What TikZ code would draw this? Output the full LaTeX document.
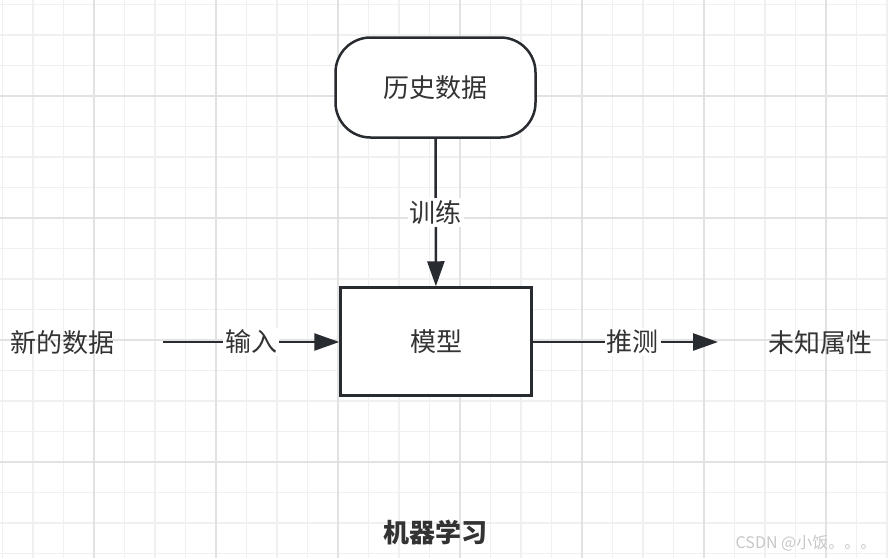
\documentclass[tikz,border=0pt]{standalone}
\usepackage{fontspec}
\setmainfont{Noto Sans CJK SC}
\usetikzlibrary{arrows.meta}
\definecolor{ink}{RGB}{40,43,47}
\definecolor{txt}{RGB}{51,51,51}
\definecolor{gminor}{RGB}{240,240,240}
\definecolor{gmajor}{RGB}{226,226,226}
\definecolor{wmark}{RGB}{200,200,200}
\begin{document}
\begin{tikzpicture}[x=1pt,y=-1pt,
  shapebox/.style={draw=ink, line width=2.5pt, fill=white, text=txt, font=\fontsize{26}{30}\selectfont, inner sep=0pt},
  plain/.style={text=txt, font=\fontsize{26}{30}\selectfont, inner sep=0pt},
  lbl/.style={fill=white, text=txt, font=\fontsize{26}{30}\selectfont, inner sep=2pt},
  conn/.style={draw=ink, line width=2.5pt, -{Triangle[length=25pt,width=17pt]}},
  gminorline/.style={draw=gminor, line width=1.6pt},
  gmajorline/.style={draw=gmajor, line width=1.6pt}]
\useasboundingbox (0,0) rectangle (888,558);
\fill[white] (0,0) rectangle (888,558);
\foreach \i in {0,...,29} {
  \draw[gminorline] ({2.5+30.5*\i},0) -- ++(0,558);
}
\foreach \i in {0,...,18} {
  \draw[gminorline] (0,{4.5+30.5*\i}) -- ++(888,0);
}
\foreach \i in {0,...,6} {
  \draw[gmajorline] ({94+122*\i},0) -- ++(0,558);
}
\foreach \i in {0,...,3} {
  \draw[gmajorline] (0,{96+122*\i}) -- ++(888,0);
}
\node[shapebox, rounded corners=35pt, minimum width=200pt, minimum height=100pt] (hist) at (435.5,87.5) {历史数据};
\node[shapebox, minimum width=191pt, minimum height=108pt] (model) at (436,341.5) {模型};
\node[plain] (new) at (62,343) {新的数据};
\node[plain] (unk) at (820,343) {未知属性};
\coordinate (ls) at (163,342);
\coordinate (re) at (718,342);
\draw[conn] (hist) -- node[lbl] (l1) {训练} (model);
\draw[conn] (ls) -- node[lbl] (l2) {输入} (model.west |- ls);
\draw[conn] (model.east |- re) -- node[lbl, pos=0.54] (l3) {推测} (re);
\node[text=txt, font=\bfseries\fontsize{26}{30}\selectfont, inner sep=0pt] (title) at (435,532) {机器学习};
\node[text=wmark, font=\fontsize{16}{19}\selectfont, inner sep=0pt] (wm) at (806,543) {CSDN @小饭。。。};
\end{tikzpicture}
\end{document}
